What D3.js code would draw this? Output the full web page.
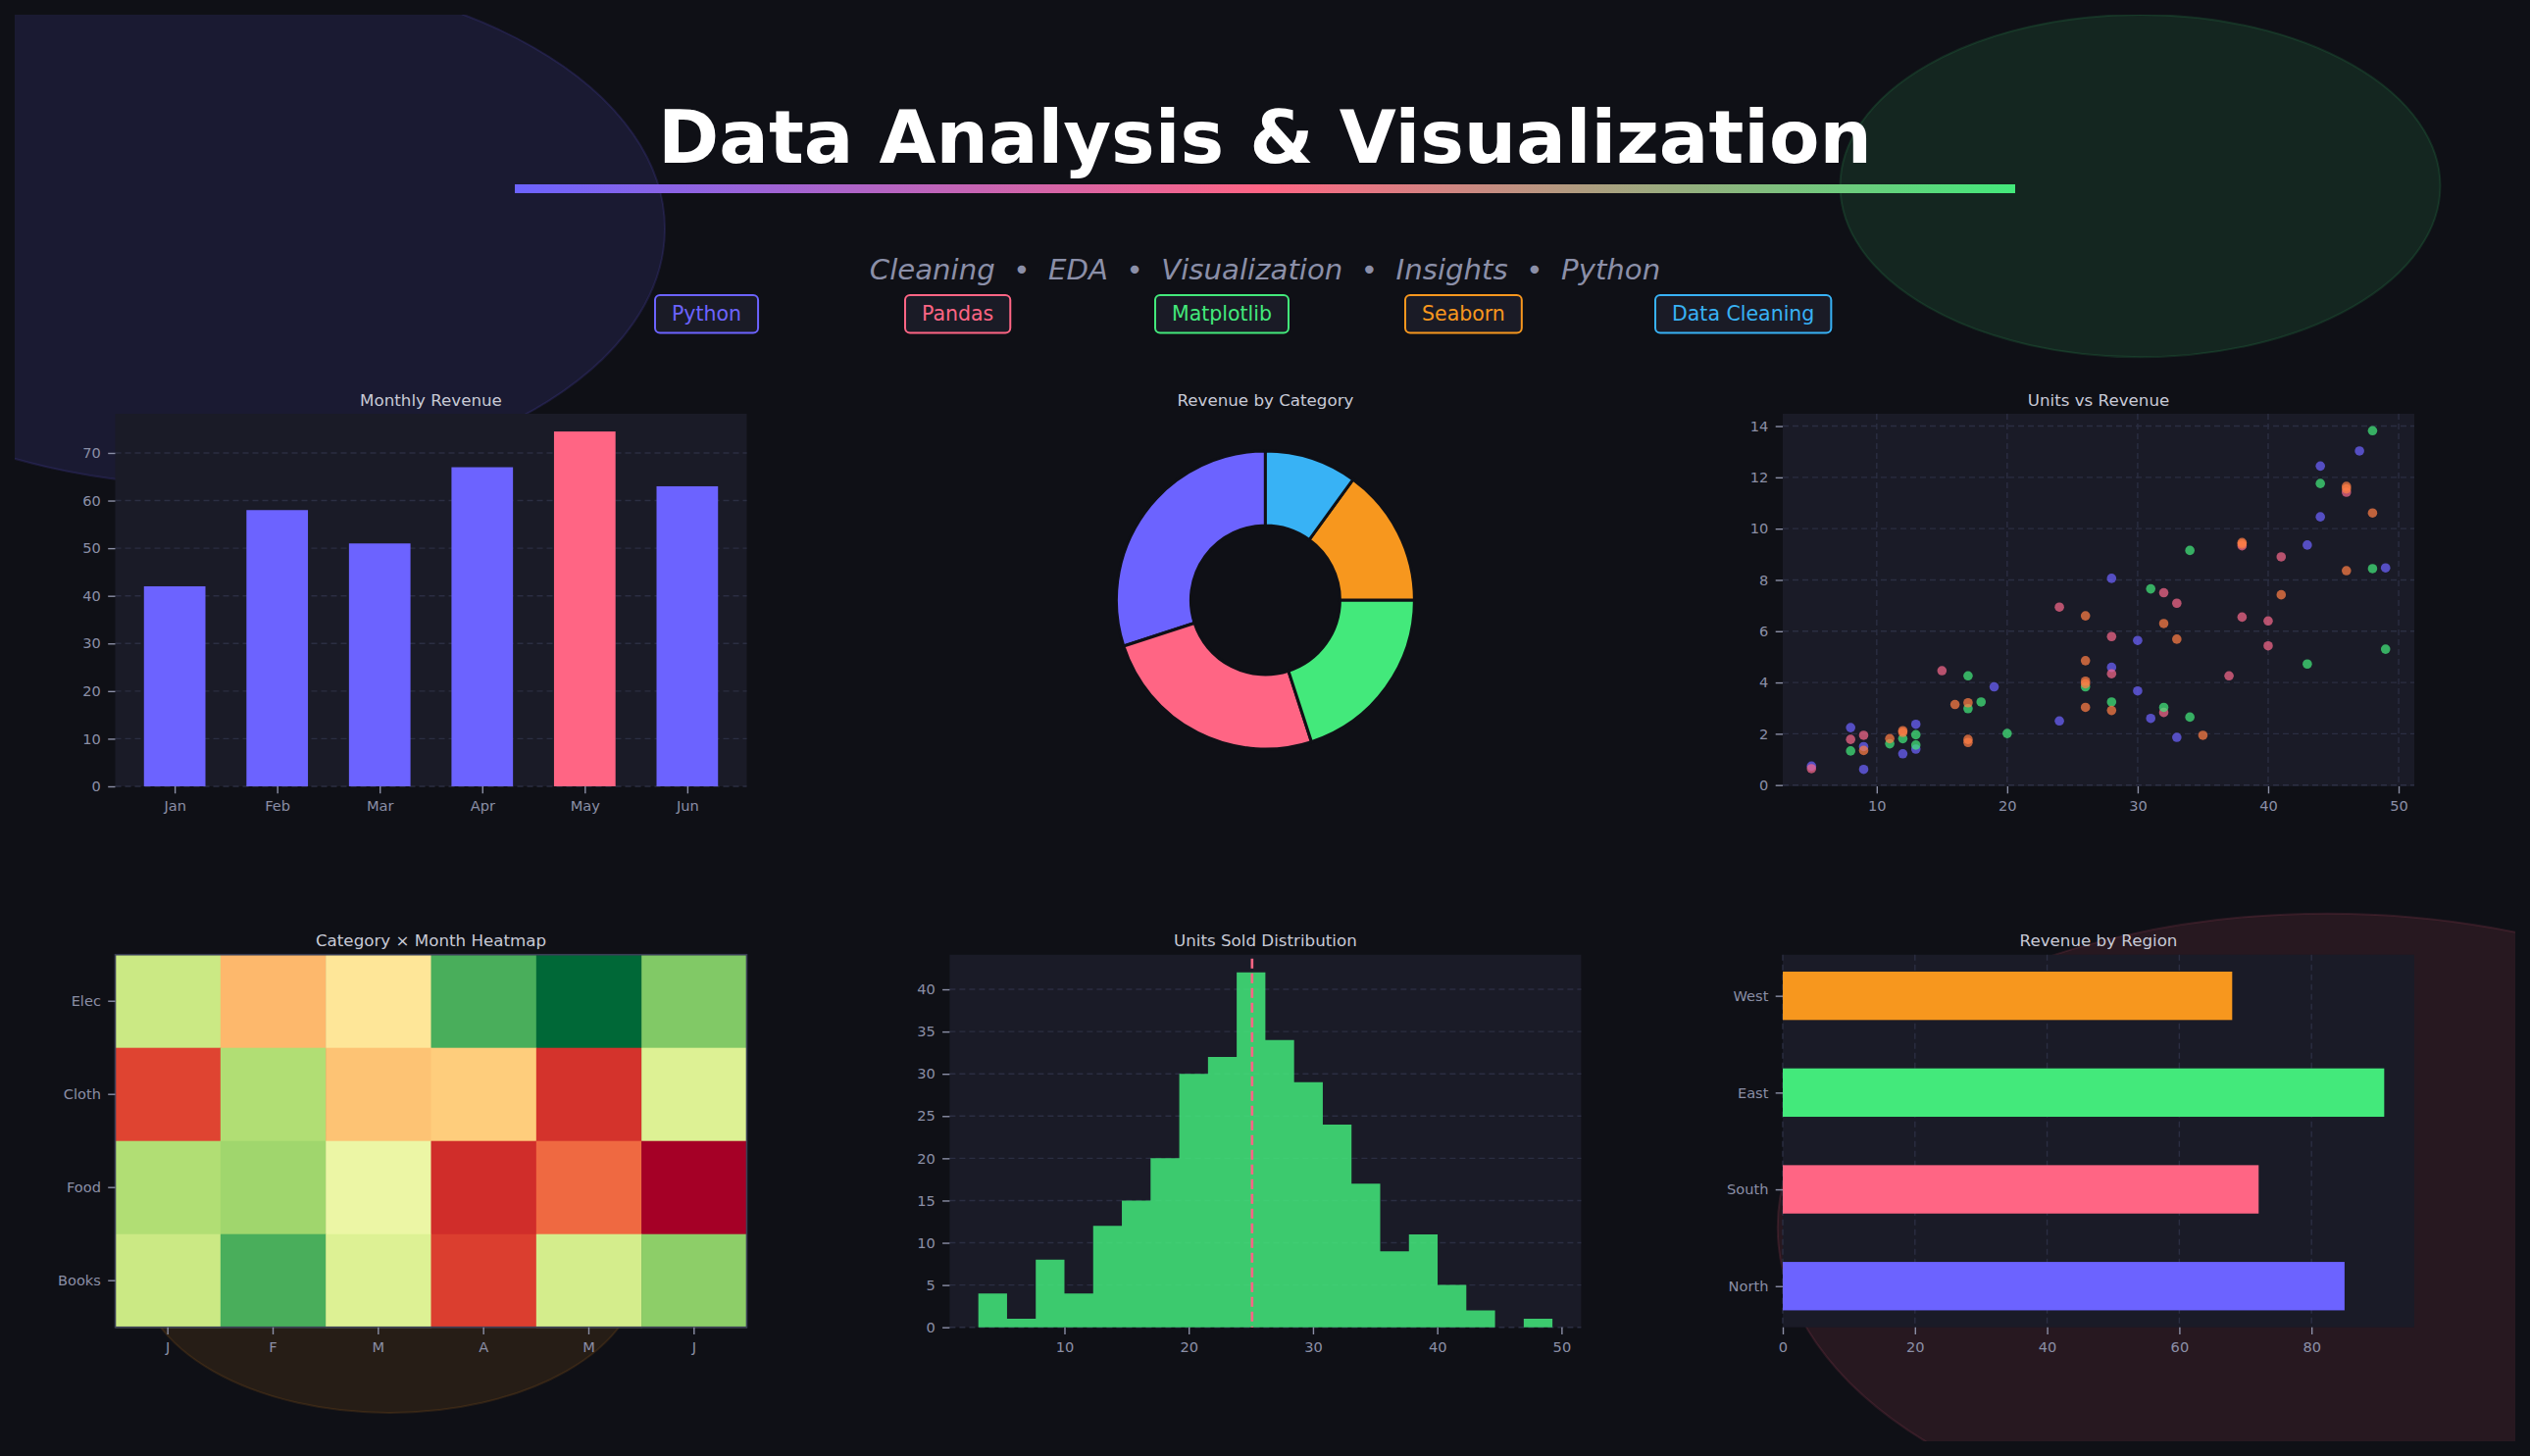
<!DOCTYPE html>
<html>
<head>
<meta charset="utf-8">
<script src="https://cdn.jsdelivr.net/npm/d3@7"></script>
<style>
  html, body { margin: 0; padding: 0; background: #0f1016; }
  svg { display: block; }
</style>
</head>
<body>
<svg id="chart" width="2580" height="1485"></svg>
<script>
// ---------------- DATA ----------------
const months = ["Jan", "Feb", "Mar", "Apr", "May", "Jun"];
const monthlyRevenue = [42, 58, 51, 67, 74.5, 63];
const highlightMonth = "May";

const pieCategories = ["Electronics", "Clothing", "Food", "Books", "Other"];
const pieShares = [30, 25, 20, 15, 10];

const palette = ["#6C63FF", "#FF6584", "#43E97B", "#F7971E", "#38B2F5"];

// Units vs Revenue scatter, one list of [units, revenue] per category
const scatterCategories = ["Electronics", "Clothing", "Food", "Books"];
const scatterColors = ["#6C63FF", "#F5688A", "#43E97B", "#FF7E45"];
const scatterElectronics = [[5,0.74],[8,2.24],[9,1.50],[9,0.61],[12,1.22],[13,2.37],[13,1.40],[19,3.83],[24,2.50],[28,8.06],[28,4.59],[30,5.64],[30,3.67],[31,2.60],[33,1.86],[43,9.36],[44,12.44],[44,10.46],[47,13.03],[49,8.47]];
const scatterClothing = [[5,0.64],[8,1.78],[9,1.94],[15,4.46],[24,6.94],[28,5.79],[28,4.34],[32,7.50],[32,2.83],[33,7.09],[37,4.26],[38,9.33],[38,6.55],[40,6.40],[40,5.43],[41,8.90],[46,11.42]];
const scatterFood = [[8,1.33],[11,1.61],[12,1.81],[13,1.96],[13,1.56],[17,4.26],[17,2.98],[18,3.24],[20,2.01],[26,3.83],[28,3.24],[31,7.65],[32,3.03],[34,9.15],[34,2.65],[43,4.72],[44,11.76],[48,13.82],[48,8.44],[49,5.30]];
const scatterBooks = [[9,1.35],[11,1.81],[12,2.12],[12,2.05],[16,3.14],[17,3.21],[17,1.78],[17,1.66],[26,6.60],[26,4.85],[26,4.05],[26,3.95],[26,3.03],[28,2.91],[32,6.30],[33,5.69],[35,1.94],[38,9.46],[38,9.40],[41,7.42],[46,11.65],[46,11.55],[46,8.36],[48,10.61]];

// Heatmap
const heatRows = ["Elec", "Cloth", "Food", "Books"];
const heatCols = ["J", "F", "M", "A", "M", "J"];
const heatElec  = [62, 32, 42, 83, 99, 75];
const heatCloth = [13, 67, 34, 36, 10, 58];
const heatFood  = [67, 70, 54,  9, 19,  0];
const heatBooks = [62, 83, 58, 12, 60, 73];

// Histogram of units sold
const histEdges = [3.07,5.38,7.69,10.00,12.31,14.62,16.93,19.24,21.55,23.86,26.17,28.48,30.79,33.10,35.41,37.72,40.03,42.34,44.65,46.96,49.27];
const histCounts = [4,1,8,4,12,15,20,30,32,42,34,29,24,17,9,11,5,2,0,1];
const meanUnits = 25.1;

// Revenue by region
const regions = ["North", "South", "East", "West"];
const regionRevenue = [85, 72, 91, 68];

// Header
const titleText = "Data Analysis & Visualization";
const subtitleText = "Cleaning  \u2022  EDA  \u2022  Visualization  \u2022  Insights  \u2022  Python";
const tagNames = ["Python", "Pandas", "Matplotlib", "Seaborn", "Data Cleaning"];
const tagColors = ["#6C63FF", "#FF6584", "#43E97B", "#F7971E", "#38B2F5"];

// ---------------- STYLE ----------------
const BG = "#0f1016";
const PANEL = "#1a1b27";
const GRID = "#2b2e42";
const TICK = "#8b8fa6";
const TITLE = "#c8cad6";
const FONT = "'DejaVu Sans', sans-serif";
const TICK_FS = 14.6, TITLE_FS = 16.7;

const svg = d3.select("#chart");
svg.append("rect").attr("width", 2580).attr("height", 1485).attr("fill", BG);

// figure area (background decorations are clipped to it)
const FX = 15, FY = 15, FW = 2550, FH = 1455;
const defs = svg.append("defs");
defs.append("clipPath").attr("id", "figclip")
  .append("rect").attr("x", FX).attr("y", FY).attr("width", FW).attr("height", FH);

const backdrop = svg.append("g").attr("clip-path", "url(#figclip)");
[
  { cx: 0.08,  cy: 0.85, r: 0.18, c: "#6C63FF", a: 0.12 },
  { cx: 0.85,  cy: 0.88, r: 0.12, c: "#43E97B", a: 0.10 },
  { cx: 0.15,  cy: 0.12, r: 0.10, c: "#F7971E", a: 0.10 },
  { cx: 0.925, cy: 0.15, r: 0.22, c: "#FF6584", a: 0.10 }
].forEach(b => {
  backdrop.append("ellipse")
    .attr("cx", FX + b.cx * FW).attr("cy", FY + (1 - b.cy) * FH)
    .attr("rx", b.r * FW).attr("ry", b.r * FH)
    .attr("fill", b.c).attr("fill-opacity", b.a)
    .attr("stroke", b.c).attr("stroke-opacity", b.a * 1.2).attr("stroke-width", 2);
});

// ---------------- HEADER ----------------
svg.append("text").attr("x", 1290).attr("y", 166)
  .attr("text-anchor", "middle").attr("font-family", FONT)
  .attr("font-weight", "bold").attr("font-size", 75).attr("fill", "#ffffff")
  .text(titleText);

const grad = defs.append("linearGradient").attr("id", "titleGrad")
  .attr("x1", "0%").attr("x2", "100%").attr("y1", "0%").attr("y2", "0%");
grad.append("stop").attr("offset", "0%").attr("stop-color", "#6C63FF");
grad.append("stop").attr("offset", "50%").attr("stop-color", "#FF6584");
grad.append("stop").attr("offset", "100%").attr("stop-color", "#43E97B");
svg.append("rect").attr("x", 525).attr("y", 188).attr("width", 1530).attr("height", 9)
  .attr("fill", "url(#titleGrad)");

svg.append("text").attr("x", 1290).attr("y", 285)
  .attr("text-anchor", "middle").attr("font-family", FONT)
  .attr("font-style", "italic").attr("font-size", 29.2).attr("fill", "#8b8fa8")
  .style("white-space", "pre").attr("xml:space", "preserve")
  .text(subtitleText);

tagNames.forEach((name, i) => {
  const g = svg.append("g");
  const tx = 685 + i * 255;
  const box = g.append("rect");
  const t = g.append("text").attr("x", tx).attr("y", 326.5)
    .attr("font-family", FONT).attr("font-size", 20.5).attr("fill", tagColors[i])
    .text(name);
  const w = t.node().getComputedTextLength();
  box.attr("x", tx - 17).attr("y", 301).attr("width", w + 34).attr("height", 38.5)
    .attr("rx", 5).attr("fill", "#1a1b26").attr("stroke", tagColors[i]).attr("stroke-width", 2);
});

// ---------------- HELPERS ----------------
const colsX = [117.5, 968.4, 1818];
const rowsY = [422, 973.7];
const PW = 644, PH = 380;

function panelBg(x, y) {
  svg.append("rect").attr("x", x).attr("y", y).attr("width", PW).attr("height", PH).attr("fill", PANEL);
}
function panelTitle(cx, y, txt) {
  svg.append("text").attr("x", cx).attr("y", y - 8.5)
    .attr("text-anchor", "middle").attr("font-family", FONT)
    .attr("font-size", TITLE_FS).attr("fill", TITLE).text(txt);
}
function styleAxis(g) {
  g.attr("font-family", FONT).attr("font-size", TICK_FS);
  g.select(".domain").remove();
  g.selectAll(".tick line").attr("stroke", TICK).attr("stroke-width", 1.4);
  g.selectAll(".tick text").attr("fill", TICK);
}
function hGrid(y, vals, x0) {
  svg.append("g").selectAll("line").data(vals).join("line")
    .attr("x1", x0).attr("x2", x0 + PW)
    .attr("y1", d => y(d)).attr("y2", d => y(d))
    .attr("stroke", GRID).attr("stroke-width", 1.4).attr("stroke-dasharray", "6,4");
}
function vGrid(x, vals, y0) {
  svg.append("g").selectAll("line").data(vals).join("line")
    .attr("y1", y0).attr("y2", y0 + PH)
    .attr("x1", d => x(d)).attr("x2", d => x(d))
    .attr("stroke", GRID).attr("stroke-width", 1.4).attr("stroke-dasharray", "6,4");
}

// ---------------- 1. Monthly Revenue ----------------
{
  const x0 = colsX[0], y0 = rowsY[0];
  panelBg(x0, y0);
  panelTitle(x0 + PW / 2, y0, "Monthly Revenue");
  const n = months.length;
  const x = d3.scaleLinear().domain([-0.3 - 0.05 * (n - 0.4), n - 0.7 + 0.05 * (n - 0.4)]).range([x0, x0 + PW]);
  const y = d3.scaleLinear().domain([0, d3.max(monthlyRevenue) * 1.05]).range([y0 + PH, y0]);
  const yt = [0, 10, 20, 30, 40, 50, 60, 70];
  hGrid(y, yt, x0);
  const bw = x(0.3) - x(-0.3);
  svg.append("g").selectAll("rect").data(monthlyRevenue).join("rect")
    .attr("x", (d, i) => x(i) - bw / 2).attr("width", bw)
    .attr("y", d => y(d)).attr("height", d => y(0) - y(d))
    .attr("fill", (d, i) => months[i] === highlightMonth ? "#FF6584" : "#6C63FF");
  svg.append("g").attr("transform", `translate(0,${y0 + PH})`)
    .call(d3.axisBottom(x).tickValues(d3.range(n)).tickFormat(i => months[i]).tickSize(7.3).tickPadding(7.3))
    .call(styleAxis);
  svg.append("g").attr("transform", `translate(${x0},0)`)
    .call(d3.axisLeft(y).tickValues(yt).tickSize(7.3).tickPadding(7.3))
    .call(styleAxis);
}

// ---------------- 2. Donut ----------------
{
  const cx = colsX[1] + PW / 2, cy = rowsY[0] + PH / 2;
  panelTitle(cx, rowsY[0], "Revenue by Category");
  const R = PH / 2.5;
  const pie = d3.pie().sort(null).startAngle(0).endAngle(-2 * Math.PI);
  const arc = d3.arc().innerRadius(R * 0.5).outerRadius(R);
  svg.append("g").attr("transform", `translate(${cx},${cy})`)
    .selectAll("path").data(pie(pieShares)).join("path")
    .attr("d", arc).attr("fill", (d, i) => palette[i])
    .attr("stroke", BG).attr("stroke-width", 3).attr("stroke-linejoin", "miter");
}

// ---------------- 3. Scatter ----------------
{
  const x0 = colsX[2], y0 = rowsY[0];
  panelBg(x0, y0);
  panelTitle(x0 + PW / 2, y0, "Units vs Revenue");
  const groups = [scatterElectronics, scatterClothing, scatterFood, scatterBooks];
  const all = groups.flat();
  const xe = d3.extent(all, d => d[0]), ye = d3.extent(all, d => d[1]);
  const xm = (xe[1] - xe[0]) * 0.05, ym = (ye[1] - ye[0]) * 0.05;
  const x = d3.scaleLinear().domain([xe[0] - xm, xe[1] + xm]).range([x0, x0 + PW]);
  const y = d3.scaleLinear().domain([ye[0] - ym, ye[1] + ym]).range([y0 + PH, y0]);
  const xt = [10, 20, 30, 40, 50], yt = [0, 2, 4, 6, 8, 10, 12, 14];
  hGrid(y, yt, x0);
  vGrid(x, xt, y0);
  groups.forEach((pts, gi) => {
    svg.append("g").selectAll("circle").data(pts).join("circle")
      .attr("cx", d => x(d[0])).attr("cy", d => y(d[1])).attr("r", 4.8)
      .attr("fill", scatterColors[gi]).attr("fill-opacity", 0.72);
  });
  svg.append("g").attr("transform", `translate(0,${y0 + PH})`)
    .call(d3.axisBottom(x).tickValues(xt).tickSize(7.3).tickPadding(7.3))
    .call(styleAxis);
  svg.append("g").attr("transform", `translate(${x0},0)`)
    .call(d3.axisLeft(y).tickValues(yt).tickSize(7.3).tickPadding(7.3))
    .call(styleAxis);
}

// ---------------- 4. Heatmap ----------------
{
  const x0 = colsX[0], y0 = rowsY[1];
  panelTitle(x0 + PW / 2, y0, "Category \u00d7 Month Heatmap");
  const matrix = [heatElec, heatCloth, heatFood, heatBooks];
  const flat = matrix.flat();
  const color = d3.scaleSequential(d3.interpolateRdYlGn).domain(d3.extent(flat));
  const x = d3.scaleBand().domain(d3.range(heatCols.length)).range([x0, x0 + PW]);
  const y = d3.scaleBand().domain(d3.range(heatRows.length)).range([y0, y0 + PH]);
  const cells = [];
  matrix.forEach((row, r) => row.forEach((v, c) => cells.push({ r, c, v })));
  svg.append("g").selectAll("rect").data(cells).join("rect")
    .attr("x", d => x(d.c)).attr("y", d => y(d.r))
    .attr("width", x.bandwidth() + 0.5).attr("height", y.bandwidth() + 0.5)
    .attr("fill", d => color(d.v));
  svg.append("rect").attr("x", x0).attr("y", y0).attr("width", PW).attr("height", PH)
    .attr("fill", "none").attr("stroke", "#3a3e55").attr("stroke-width", 1.6);
  svg.append("g").attr("transform", `translate(0,${y0 + PH})`)
    .call(d3.axisBottom(x).tickFormat(i => heatCols[i]).tickSize(7.3).tickPadding(7.3))
    .call(styleAxis);
  svg.append("g").attr("transform", `translate(${x0},0)`)
    .call(d3.axisLeft(y).tickFormat(i => heatRows[i]).tickSize(7.3).tickPadding(7.3))
    .call(styleAxis);
}

// ---------------- 5. Histogram ----------------
{
  const x0 = colsX[1], y0 = rowsY[1];
  panelBg(x0, y0);
  panelTitle(x0 + PW / 2, y0, "Units Sold Distribution");
  const lo = histEdges[0], hi = histEdges[histEdges.length - 1];
  const m = (hi - lo) * 0.05;
  const x = d3.scaleLinear().domain([lo - m, hi + m]).range([x0, x0 + PW]);
  const y = d3.scaleLinear().domain([0, d3.max(histCounts) * 1.05]).range([y0 + PH, y0]);
  const xt = [10, 20, 30, 40, 50], yt = [0, 5, 10, 15, 20, 25, 30, 35, 40];
  hGrid(y, yt, x0);
  // draw as one outline so there are no seams between neighbouring bins
  const pts = [[x(histEdges[0]), y(0)]];
  histCounts.forEach((c, i) => {
    pts.push([x(histEdges[i]), y(c)]);
    pts.push([x(histEdges[i + 1]), y(c)]);
  });
  pts.push([x(histEdges[histEdges.length - 1]), y(0)]);
  svg.append("path").attr("d", d3.line()(pts) + "Z")
    .attr("fill", "#43E97B").attr("fill-opacity", 0.85);
  svg.append("line")
    .attr("x1", x(meanUnits)).attr("x2", x(meanUnits))
    .attr("y1", y0 + 4).attr("y2", y0 + PH)
    .attr("stroke", "#FF6584").attr("stroke-width", 2.6).attr("stroke-dasharray", "10,5");
  svg.append("g").attr("transform", `translate(0,${y0 + PH})`)
    .call(d3.axisBottom(x).tickValues(xt).tickSize(7.3).tickPadding(7.3))
    .call(styleAxis);
  svg.append("g").attr("transform", `translate(${x0},0)`)
    .call(d3.axisLeft(y).tickValues(yt).tickSize(7.3).tickPadding(7.3))
    .call(styleAxis);
}

// ---------------- 6. Revenue by Region ----------------
{
  const x0 = colsX[2], y0 = rowsY[1];
  panelBg(x0, y0);
  panelTitle(x0 + PW / 2, y0, "Revenue by Region");
  const n = regions.length;
  const x = d3.scaleLinear().domain([0, d3.max(regionRevenue) * 1.05]).range([x0, x0 + PW]);
  const pad = 0.05 * (n - 1 + 0.5);
  const y = d3.scaleLinear().domain([-0.25 - pad, n - 0.75 + pad]).range([y0 + PH, y0]);
  const xt = [0, 20, 40, 60, 80];
  vGrid(x, xt, y0);
  svg.append("g").selectAll("rect").data(regionRevenue).join("rect")
    .attr("x", x(0)).attr("width", d => x(d) - x(0))
    .attr("y", (d, i) => y(i + 0.25)).attr("height", (d, i) => y(i - 0.25) - y(i + 0.25))
    .attr("fill", (d, i) => palette[i]);
  svg.append("g").attr("transform", `translate(0,${y0 + PH})`)
    .call(d3.axisBottom(x).tickValues(xt).tickSize(7.3).tickPadding(7.3))
    .call(styleAxis);
  svg.append("g").attr("transform", `translate(${x0},0)`)
    .call(d3.axisLeft(y).tickValues(d3.range(n)).tickFormat(i => regions[i]).tickSize(7.3).tickPadding(7.3))
    .call(styleAxis);
}
</script>
</body>
</html>
